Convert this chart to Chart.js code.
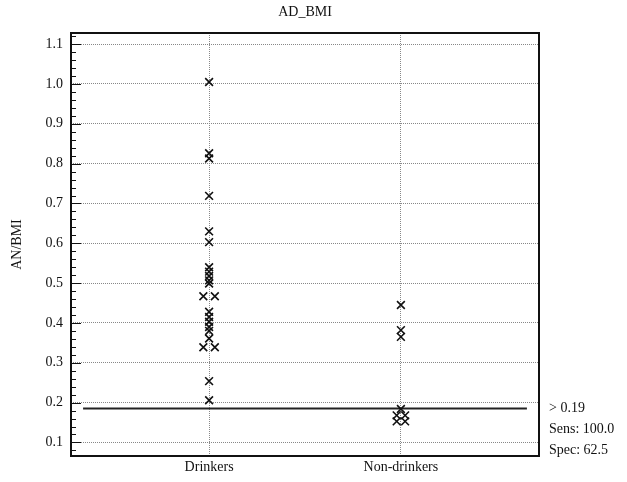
<!DOCTYPE html>
<html>
<head>
<meta charset="utf-8">
<script src="https://cdn.jsdelivr.net/npm/chart.js@4.4.1/dist/chart.umd.min.js"></script>
<style>
  html, body { margin: 0; padding: 0; background: #fff; }
  #wrap { width: 627px; height: 482px; }
</style>
</head>
<body>
<div id="wrap"><canvas id="chart-dots"></canvas></div>
<script>
// values
var categories = ["Drinkers", "Non-drinkers"];
var drinkers = [1.005, 0.826, 0.813, 0.719, 0.630, 0.603, 0.540, 0.529, 0.518, 0.507, 0.499,
                0.467, 0.467, 0.428, 0.415, 0.403, 0.390, 0.380, 0.361, 0.339, 0.339, 0.254, 0.206];
var drinkersSide = [0, 0, 0, 0, 0, 0, 0, 0, 0, 0, 0,
                    -1, 1, 0, 0, 0, 0, 0, 0, -1, 1, 0, 0];
var nonDrinkers = [0.445, 0.382, 0.365, 0.184, 0.168, 0.168, 0.153, 0.153];
var nonDrinkersSide = [0, 0, 0, 0, -1, 1, -1, 1];
var yTicks = [0.1, 0.2, 0.3, 0.4, 0.5, 0.6, 0.7, 0.8, 0.9, 1.0, 1.1];
var cutoff = 0.185;
var cutoffLabels = ["> 0.19", "Sens: 100.0", "Spec: 62.5"];
var chartTitle = "AD_BMI";

var serif = "'Liberation Serif', 'Times New Roman', serif";

function toPoints(vals, side, cat, spread){
    return vals.map(function(v, i){ return {x: cat + side[i] * spread, y: v}; });
}

var frame = {
    id: 'frame',
    afterDraw: function(chart){
        var c = chart.ctx, a = chart.chartArea, ys = chart.scales.y;
        c.save();
        c.strokeStyle = '#111';
        c.lineWidth = 1;
        // minor ticks
        for (var k = 4; k <= 56; k++){
            var v = k * 0.02;
            if (v < ys.min || v > ys.max) continue;
            var py = Math.round(ys.getPixelForValue(v)) + 0.5;
            var len = (k % 5 === 0) ? 10 : 5;
            c.beginPath();
            c.moveTo(a.left, py);
            c.lineTo(a.left + len, py);
            c.stroke();
        }
        c.lineWidth = 2;
        c.strokeRect(a.left, a.top, a.right - a.left, a.bottom - a.top);
        c.fillStyle = '#111';
        c.font = "14px " + serif;
        c.textBaseline = 'middle';
        // title over the plot area
        c.textAlign = 'center';
        c.fillText(chartTitle, (a.left + a.right) / 2, 12);
        // cut-off annotation
        c.textAlign = 'left';
        var cy = ys.getPixelForValue(cutoff);
        cutoffLabels.forEach(function(t, i){
            c.fillText(t, a.right + 10, cy + i * 21);
        });
        c.restore();
    }
};

function load(){
    var ctx = document.getElementById("chart-dots");
    new Chart(ctx, {
        type: 'scatter',
        data: {
            datasets: [{
                data: toPoints(drinkers, drinkersSide, 1, 0.03),
                pointStyle: 'crossRot',
                radius: 5.5,
                borderWidth: 1.6,
                borderColor: '#111'
            }, {
                data: toPoints(nonDrinkers, nonDrinkersSide, 2, 0.022),
                pointStyle: 'crossRot',
                radius: 5.5,
                borderWidth: 1.6,
                borderColor: '#111'
            }, {
                type: 'line',
                data: [{x: 0.343, y: cutoff}, {x: 2.657, y: cutoff}],
                borderColor: '#222',
                borderWidth: 2,
                pointRadius: 0
            }]
        },
        options: {
            responsive: true,
            maintainAspectRatio: false,
            animation: false,
            layout: { padding: { left: 0, right: 88, top: 33, bottom: 0 } },
            plugins: {
                legend: { display: false },
                tooltip: { enabled: false },
                title: { display: false }
            },
            scales: {
                x: {
                    type: 'linear',
                    min: 0.28,
                    max: 2.72,
                    afterBuildTicks: function(s){ s.ticks = [{value: 1}, {value: 2}]; },
                    afterFit: function(s){ s.height = 26; },
                    ticks: {
                        color: '#111',
                        padding: 3,
                        font: { family: serif, size: 14 },
                        callback: function(v){ return categories[v - 1]; }
                    },
                    grid: { color: '#888', drawTicks: false },
                    border: { display: false, dash: [1, 1] }
                },
                y: {
                    min: 0.066,
                    max: 1.128,
                    afterBuildTicks: function(s){ s.ticks = yTicks.map(function(v){ return {value: v}; }); },
                    afterFit: function(s){ s.width = 71; },
                    ticks: {
                        color: '#111',
                        padding: 8,
                        font: { family: serif, size: 14 },
                        callback: function(v){ return v.toFixed(1); }
                    },
                    grid: { color: '#888', drawTicks: false },
                    border: { display: false, dash: [1, 1] },
                    title: {
                        display: true,
                        text: 'AN/BMI',
                        color: '#111',
                        font: { family: serif, size: 14 },
                        padding: { top: 9, bottom: 0 }
                    }
                }
            }
        },
        plugins: [frame]
    });
}
load();
</script>
</body>
</html>
